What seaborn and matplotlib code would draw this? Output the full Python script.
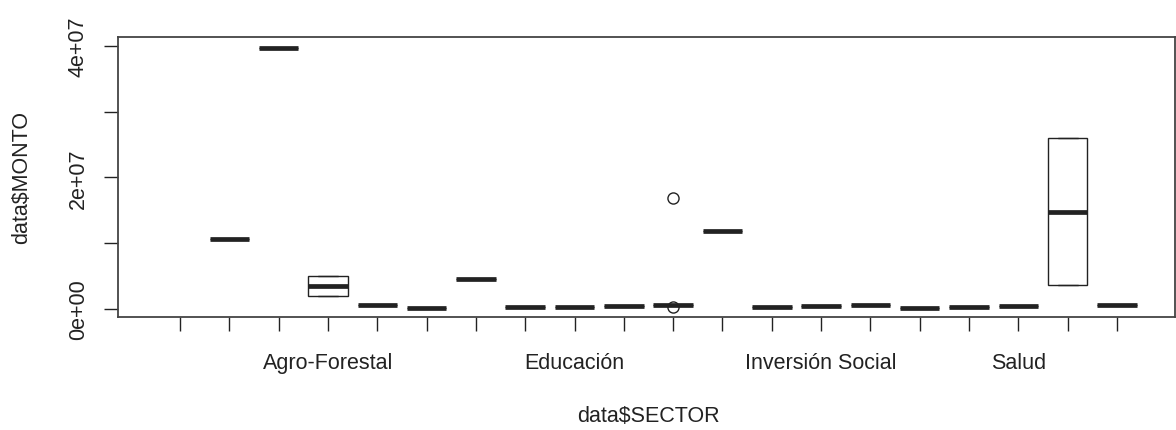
import matplotlib
matplotlib.use("Agg")
import matplotlib.pyplot as plt
import seaborn as sns
import pandas as pd

# ---- data (long format) ----
sector_order = ["S01", "S02", "S03", "S04", "S05", "S06", "S07", "S08", "S09", "S10",
                "S11", "S12", "S13", "S14", "S15", "S16", "S17", "S18", "S19", "S20"]
tick_labels = ["", "", "", "Agro-Forestal", "", "", "", "", "Educación", "",
               "", "", "", "Inversión Social", "", "", "", "Salud", "", ""]

sector = ["S02", "S03",
          "S04", "S04", "S04", "S04",
          "S05", "S06", "S07", "S08", "S09", "S10",
          "S11", "S11", "S11", "S11", "S11", "S11",
          "S12", "S13", "S14", "S15", "S16", "S17", "S18",
          "S19", "S19", "S19", "S19",
          "S20"]
monto = [1.06e7, 3.97e7,
         2.0e6, 2.0e6, 5.0e6, 5.0e6,
         6.0e5, 1.5e5, 4.55e6, 3.5e5, 3.5e5, 5.0e5,
         6.0e5, 6.0e5, 6.0e5, 6.0e5, 3.0e5, 1.69e7,
         1.18e7, 2.5e5, 5.0e5, 6.5e5, 1.5e5, 2.5e5, 4.5e5,
         3.6e6, 3.6e6, 2.6e7, 2.6e7,
         5.5e5]

y_ticks = [0, 1e7, 2e7, 3e7, 4e7]
y_tick_labels = ["0e+00", "", "2e+07", "", "4e+07"]

df = pd.DataFrame({"SECTOR": sector, "MONTO": monto})

sns.set_style("white")
plt.rcParams["font.family"] = ["Liberation Sans", "DejaVu Sans"]
plt.rcParams["font.size"] = 15.5

W, H = 1176, 431
fig = plt.figure(figsize=(W / 100, H / 100), dpi=100)
left, right, top, bottom = 118, 1175, 37.7, 318
ax = fig.add_axes([left / W, 1 - bottom / H, (right - left) / W, (bottom - top) / H])

ink = "#222222"
sns.boxplot(data=df, x="SECTOR", y="MONTO", order=sector_order, ax=ax,
            color="white", linecolor=ink, linewidth=1.0, width=0.8,
            medianprops=dict(linewidth=3.4, color=ink),
            flierprops=dict(marker="o", markerfacecolor="none", markeredgecolor=ink,
                            markersize=8, markeredgewidth=1.0))

spacing = (1117 - 180) / 19.0
ax.set_xlim((left - 180) / spacing, (right - 180) / spacing)
ppu = (310 - 46.7) / 4e7
ax.set_ylim(-(bottom - 310) / ppu, (310 - top) / ppu)

ax.set_xticks(range(len(sector_order)))
ax.set_xticklabels(tick_labels)
ax.set_yticks(y_ticks)
ax.set_yticklabels(y_tick_labels, rotation=90, va="center")

ax.tick_params(axis="both", direction="out", length=10, width=1.0, color=ink,
               labelcolor=ink, labelsize=15.5)
ax.tick_params(axis="x", bottom=True, pad=15)
ax.tick_params(axis="y", left=True, pad=11)

for s in ax.spines.values():
    s.set_visible(True)
    s.set_color("#444444")
    s.set_linewidth(1.3)

ax.set_xlabel("data$SECTOR", fontsize=15.5, color=ink)
ax.set_ylabel("data$MONTO", fontsize=15.5, color=ink)
ax.xaxis.label.set_va("center")
ax.yaxis.label.set_va("center")
ax.xaxis.set_label_coords((648 - left) / (right - left), (bottom - 417) / (bottom - top))
ax.yaxis.set_label_coords((22 - left) / (right - left), 0.5)

fig.savefig("out.png", dpi=100)
